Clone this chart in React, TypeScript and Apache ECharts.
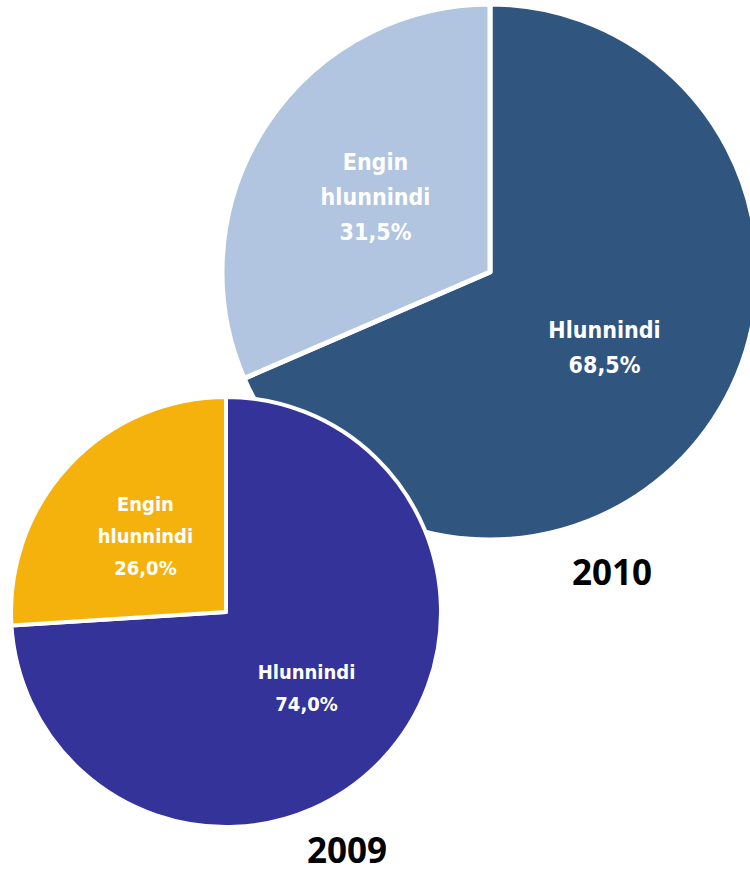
import React, { useEffect, useRef } from "react";
import * as echarts from "echarts";

const categories = ["Hlunnindi", "Engin\nhlunnindi"];
const values2010 = [68.5, 31.5];
const values2009 = [74.0, 26.0];
const years = ["2010", "2009"];

const labelFont = "'Liberation Sans Narrow', 'DejaVu Sans Condensed', 'Arial Narrow', sans-serif";

export default function App() {
  const ref = useRef<HTMLDivElement>(null);
  useEffect(() => {
    if (!ref.current) return;
    const chart = echarts.init(ref.current, null, { renderer: "svg" });
    const fmt = (p: any) => `${p.name}\n${p.value.toFixed(1).replace(".", ",")}%`;
    chart.setOption({
      animation: false,
      backgroundColor: "#ffffff",
      series: [
        {
          type: "pie",
          z: 1,
          center: [490, 272],
          radius: [0, 268],
          startAngle: 90,
          clockwise: true,
          silent: true,
          label: {
            show: true,
            position: "inside",
            formatter: fmt,
            color: "#ffffff",
            fontFamily: labelFont,
            fontWeight: "bold",
            fontSize: 23,
            lineHeight: 35,
          },
          labelLine: { show: false },
          itemStyle: { borderColor: "#ffffff", borderWidth: 5 },
          data: categories.map((c, i) => ({
            name: c,
            value: values2010[i],
            itemStyle: { color: i === 0 ? "#30567f" : "#b1c5e0" },
          })),
        },
        {
          type: "pie",
          z: 3,
          center: [226, 612],
          radius: [0, 215],
          startAngle: 90,
          clockwise: true,
          silent: true,
          label: {
            show: true,
            position: "inside",
            formatter: fmt,
            color: "#ffffff",
            fontFamily: labelFont,
            fontWeight: "bold",
            fontSize: 20,
            lineHeight: 32,
          },
          labelLine: { show: false },
          itemStyle: { borderColor: "#ffffff", borderWidth: 4 },
          data: categories.map((c, i) => ({
            name: c,
            value: values2009[i],
            itemStyle: { color: i === 0 ? "#333399" : "#f6b20c" },
          })),
        },
      ],
      graphic: [
        {
          type: "text",
          x: 612,
          y: 571,
          style: {
            text: years[0],
            fill: "#000000",
            font: "bold 35px 'Open Sans', 'Liberation Sans', sans-serif",
            textAlign: "center",
            textVerticalAlign: "middle",
          },
        },
        {
          type: "text",
          x: 347,
          y: 849,
          style: {
            text: years[1],
            fill: "#000000",
            font: "bold 35px 'Open Sans', 'Liberation Sans', sans-serif",
            textAlign: "center",
            textVerticalAlign: "middle",
          },
        },
      ],
    });
    return () => chart.dispose();
  }, []);
  return (
    <div
      ref={ref}
      style={{ position: "fixed", left: 0, top: 0, width: 750, height: 872 }}
    />
  );
}
